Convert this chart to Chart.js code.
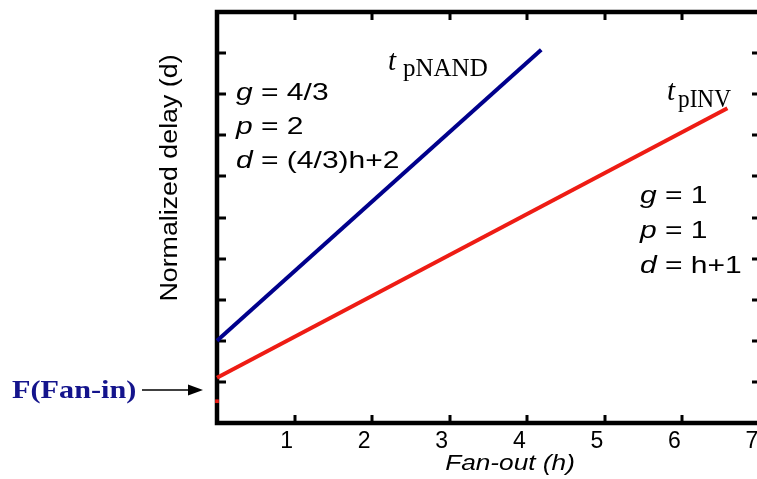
<!DOCTYPE html>
<html>
<head>
<meta charset="utf-8">
<script src="https://cdn.jsdelivr.net/npm/chart.js@4/dist/chart.umd.min.js"></script>
<style>
  html, body { margin: 0; padding: 0; background: #fff; overflow: hidden; }
</style>
</head>
<body>
<canvas id="chart" width="766" height="479"></canvas>
<script>
// ── Data ──────────────────────────────────────────────
const X_TICKS = [1, 2, 3, 4, 5, 6, 7];
const Y_TICKS = [1, 2, 3, 4, 5, 6, 7, 8, 9];
const NAND_H = [0, 4.18];
const NAND_D = [2.0, 9.08];
const INV_H  = [0, 6.58];
const INV_D  = [1.1, 7.66];
const FANIN_H = [0];
const FANIN_D = [0.53];

const BLUE = '#00008c';
const RED  = '#ee1c14';
const NAVY = '#14148c';

const pts = (xs, ys) => xs.map((x, i) => ({ x, y: ys[i] }));

// draw text runs stretched horizontally
function runs(ctx, parts, x, y, sx) {
  ctx.save();
  ctx.translate(x, y);
  ctx.scale(sx, 1);
  let cx = 0;
  parts.forEach(([txt, font]) => {
    ctx.font = font;
    ctx.fillText(txt, cx, 0);
    cx += ctx.measureText(txt).width;
  });
  ctx.restore();
}

const SANS = '"Liberation Sans", Arial, sans-serif';
const SERIF = '"Liberation Serif", "Times New Roman", serif';

// ── Frame + inner ticks + annotations ─────────────────
const framePlugin = {
  id: 'frame',
  beforeDatasetsDraw(chart) {
    const { ctx, chartArea: a } = chart;
    const xs = chart.scales.x, ys = chart.scales.y;
    ctx.save();
    ctx.strokeStyle = '#000';
    ctx.lineWidth = 4.5;
    ctx.strokeRect(a.left, a.top, a.right - a.left, a.bottom - a.top);
    ctx.lineWidth = 3;
    ctx.beginPath();
    X_TICKS.forEach(v => {
      const px = Math.round(xs.getPixelForValue(v));
      ctx.moveTo(px, a.bottom); ctx.lineTo(px, a.bottom - 8);
      ctx.moveTo(px, a.top);    ctx.lineTo(px, a.top + 8);
    });
    Y_TICKS.forEach(v => {
      const py = Math.round(ys.getPixelForValue(v));
      ctx.moveTo(a.left, py);  ctx.lineTo(a.left + 9, py);
      ctx.moveTo(a.right, py); ctx.lineTo(a.right - 8, py);
    });
    ctx.stroke();
    ctx.restore();
  },
  afterDraw(chart) {
    const { ctx } = chart;
    ctx.save();
    ctx.fillStyle = '#000';
    ctx.textBaseline = 'alphabetic';
    ctx.textAlign = 'left';

    // y title
    ctx.save();
    ctx.translate(171, 178);
    ctx.rotate(-Math.PI / 2);
    ctx.scale(1.14, 1);
    ctx.textAlign = 'center';
    ctx.textBaseline = 'middle';
    ctx.font = '23.5px ' + SANS;
    ctx.fillText('Normalized delay (d)', 0, 0);
    ctx.restore();

    // x title
    ctx.save();
    ctx.translate(510, 470);
    ctx.scale(1.22, 1);
    ctx.textAlign = 'center';
    ctx.font = 'italic 21.5px ' + SANS;
    ctx.fillText('Fan-out (h)', 0, 0);
    ctx.restore();

    // NAND equations
    const it = 'italic 24px ' + SANS, rg = '24px ' + SANS;
    runs(ctx, [['g', it], [' = 4/3', rg]], 236, 100, 1.25);
    runs(ctx, [['p', it], [' = 2', rg]], 236, 134, 1.25);
    runs(ctx, [['d', it], [' = (4/3)h+2', rg]], 236, 168, 1.25);

    // INV equations
    runs(ctx, [['g', it], [' = 1', rg]], 640, 203, 1.25);
    runs(ctx, [['p', it], [' = 1', rg]], 640, 238, 1.25);
    runs(ctx, [['d', it], [' = h+1', rg]], 640, 273, 1.25);

    // curve labels
    runs(ctx, [['t', 'italic 29px ' + SERIF]], 388, 70, 1);
    runs(ctx, [['pNAND', '25px ' + SERIF]], 403, 76, 1);
    runs(ctx, [['t', 'italic 29px ' + SERIF]], 667, 100, 1);
    runs(ctx, [['pINV', '25px ' + SERIF]], 678, 107, 0.93);

    // F(Fan-in) + arrow
    ctx.fillStyle = NAVY;
    runs(ctx, [['F(Fan-in)', 'bold 25px ' + SERIF]], 12, 398, 1.21);
    ctx.fillStyle = '#000';
    ctx.strokeStyle = '#000';
    ctx.lineWidth = 1.5;
    ctx.beginPath();
    ctx.moveTo(142, 390); ctx.lineTo(192, 390);
    ctx.stroke();
    ctx.beginPath();
    ctx.moveTo(203, 390); ctx.lineTo(188, 384.5); ctx.lineTo(188, 395.5);
    ctx.closePath();
    ctx.fill();
    ctx.restore();
  }
};

// ── Chart ─────────────────────────────────────────────
new Chart(document.getElementById('chart'), {
  type: 'line',
  data: {
    datasets: [
      { label: 'tpNAND', data: pts(NAND_H, NAND_D), borderColor: BLUE, borderWidth: 4, pointRadius: 0, clip: false },
      { label: 'tpINV',  data: pts(INV_H, INV_D),   borderColor: RED,  borderWidth: 4, pointRadius: 0, clip: false },
      { label: 'F(Fan-in)', data: pts(FANIN_H, FANIN_D), showLine: false, pointStyle: 'rect',
        pointRadius: 2.6, pointBackgroundColor: RED, pointBorderWidth: 0, borderColor: RED, clip: false },
    ],
  },
  options: {
    responsive: false,
    animation: false,
    events: [],
    layout: { padding: { left: 217, top: 12, right: 6, bottom: 0 } },
    plugins: { legend: { display: false }, tooltip: { enabled: false } },
    scales: {
      x: {
        type: 'linear', min: 0, max: 7,
        afterBuildTicks: s => { s.ticks = X_TICKS.map(v => ({ value: v })); },
        afterFit: s => { s.height = 56; s.paddingLeft = 0; s.paddingRight = 0; },
        grid: { display: false, drawTicks: false },
        border: { display: false },
        ticks: { autoSkip: false, maxRotation: 0, padding: 5, labelOffset: -8, color: '#000',
                 font: { family: SANS, size: 23 } },
      },
      y: {
        type: 'linear', min: 0, max: 10, display: false,
        afterBuildTicks: s => { s.ticks = Y_TICKS.map(v => ({ value: v })); },
      },
    },
  },
  plugins: [framePlugin],
});
</script>
</body>
</html>
